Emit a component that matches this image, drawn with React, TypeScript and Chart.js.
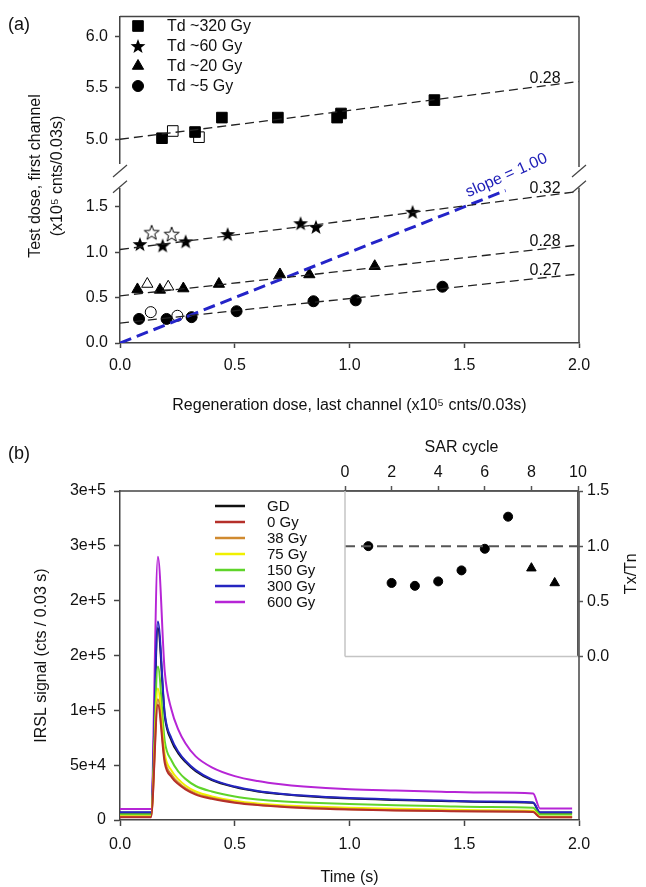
import React, { useEffect, useRef } from 'react';
import { Chart, registerables } from 'chart.js';
import { drawPoint } from 'chart.js/helpers';

Chart.register(...registerables);

const FONT = '"Liberation Sans", Arial, Helvetica, sans-serif';
const TXT = '#111';
const AXIS = '#444';
Chart.defaults.font.family = FONT;
Chart.defaults.color = TXT;

// ---------------- Panel (a) data ----------------
const legendA = ['Td ~320 Gy', 'Td ~60 Gy', 'Td ~20 Gy', 'Td ~5 Gy'];
const sq320X = [0.183, 0.327, 0.444, 0.688, 0.946, 0.963, 1.37];
const sq320Y = [5.01, 5.07, 5.21, 5.21, 5.21, 5.25, 5.38];
const sq320OpenX = [0.23, 0.344];
const sq320OpenY = [5.08, 5.02];
const star60X = [0.087, 0.186, 0.286, 0.469, 0.787, 0.854, 1.275];
const star60Y = [1.09, 1.075, 1.12, 1.2, 1.32, 1.28, 1.445];
const star60OpenX = [0.138, 0.225];
const star60OpenY = [1.22, 1.2];
const tri20X = [0.076, 0.174, 0.276, 0.431, 0.697, 0.825, 1.11];
const tri20Y = [0.59, 0.585, 0.6, 0.65, 0.755, 0.755, 0.846];
const tri20OpenX = [0.119, 0.21];
const tri20OpenY = [0.65, 0.62];
const circ5X = [0.083, 0.203, 0.312, 0.508, 0.843, 1.027, 1.405];
const circ5Y = [0.265, 0.265, 0.285, 0.35, 0.46, 0.47, 0.62];
const circ5OpenX = [0.134, 0.25];
const circ5OpenY = [0.34, 0.3];
const fitSlopes = [0.28, 0.32, 0.28, 0.27];
const fitIntercepts = [5.0, 1.03, 0.52, 0.22];
const fitLabels = ['0.28', '0.32', '0.28', '0.27'];
const unityEnd = 1.68;
const unityLabel = 'slope = 1.00';
const xTicksA = [0, 0.5, 1, 1.5, 2];
const yTicksTop = [5.0, 5.5, 6.0];
const yTicksBottom = [0, 0.5, 1.0, 1.5];

// ---------------- Panel (b) data ----------------
const timeS = [0, 0.135, 0.165, 0.195, 0.225, 0.255, 0.285, 0.33, 0.4, 0.5, 0.6, 0.7, 0.8, 1.0, 1.2, 1.4, 1.6, 1.8, 1.83, 1.97];
const sigGD = [6500, 6500, 175000, 95000, 72000, 60500, 53000, 44500, 36300, 30000, 26000, 23600, 21900, 19600, 18300, 17300, 16500, 15700, 6500, 6500];
const sig0 = [2500, 2500, 105000, 52000, 39000, 32500, 28000, 23200, 19300, 15800, 13600, 12100, 11000, 9600, 8700, 8100, 7700, 7300, 2500, 2500];
const sig38 = [3000, 3000, 110000, 55000, 41000, 34000, 29000, 24000, 20000, 16300, 14000, 12500, 11300, 9900, 9000, 8400, 8000, 7600, 2500, 2500];
const sig75 = [3500, 3500, 120000, 60000, 45000, 37000, 31500, 26000, 21500, 17500, 15000, 13500, 12500, 11200, 10300, 9600, 9000, 8500, 3000, 3000];
const sig150 = [5000, 5000, 140000, 72000, 54000, 44000, 37500, 31000, 26000, 21500, 18800, 17000, 16000, 14500, 13400, 12600, 11900, 11200, 5000, 5000];
const sig300 = [7000, 7000, 181000, 97000, 74000, 62000, 54000, 45500, 37000, 30500, 26500, 24000, 22300, 20000, 18700, 17700, 16800, 16000, 7000, 7000];
const sig600 = [10000, 10000, 240000, 135000, 100000, 82000, 70000, 58000, 48000, 40000, 35500, 32500, 30500, 28000, 26800, 25800, 25000, 24200, 10500, 10500];
const seriesB = [sigGD, sig0, sig38, sig75, sig150, sig300, sig600];
const labelsB = ['GD', '0 Gy', '38 Gy', '75 Gy', '150 Gy', '300 Gy', '600 Gy'];
const colorsB = ['#111111', '#b5302a', '#d08a30', '#f0f000', '#5fd42a', '#2525c0', '#b625d6'];
const xTicksB = [0, 0.5, 1, 1.5, 2];
const yTicksB = [0, 50000, 100000, 150000, 200000, 250000, 300000];
const yTickLabelsB = ['0', '5e+4', '1e+5', '2e+5', '2e+5', '3e+5', '3e+5'];

// ---------------- Inset data ----------------
const sarCycleCirc = [1, 2, 3, 4, 5, 6, 7];
const txTnCirc = [1.0, 0.666, 0.64, 0.68, 0.78, 0.976, 1.267];
const sarCycleTri = [8, 9];
const txTnTri = [0.8, 0.666];
const xTicksC = [0, 2, 4, 6, 8, 10];
const yTicksC = [0, 0.5, 1.0, 1.5];

// ---------------- helpers ----------------
function makeStar(filled: boolean) {
  const c = document.createElement('canvas');
  c.width = 18;
  c.height = 18;
  const g = c.getContext('2d')!;
  g.beginPath();
  for (let i = 0; i < 10; i++) {
    const r = i % 2 === 0 ? 7.8 : 3.2;
    const a = -Math.PI / 2 + (i * Math.PI) / 5;
    const px = 9 + r * Math.cos(a);
    const py = 9.7 + r * Math.sin(a);
    if (i === 0) g.moveTo(px, py);
    else g.lineTo(px, py);
  }
  g.closePath();
  if (filled) {
    g.fillStyle = '#000';
    g.fill();
  } else {
    g.fillStyle = '#fff';
    g.fill();
    g.strokeStyle = '#000';
    g.lineWidth = 1;
    g.stroke();
  }
  return c;
}

const setTicks = (values: number[]) => (scale: any) => {
  scale.ticks = values.map((v) => ({ value: v }));
};
const fixW = (w: number) => (s: any) => {
  s.width = w;
};
const fixH = (h: number) => (s: any) => {
  s.height = h;
};
const pts = (xs: number[], ys: number[]) => xs.map((x, i) => ({ x, y: ys[i] }));

function line(ctx: CanvasRenderingContext2D, x1: number, y1: number, x2: number, y2: number) {
  ctx.beginPath();
  ctx.moveTo(x1, y1);
  ctx.lineTo(x2, y2);
  ctx.stroke();
}

// ---------------- Chart (a) ----------------
function buildA(canvas: HTMLCanvasElement) {
  const STAR = makeStar(true);
  const STAR_O = makeStar(false);
  const marker = (label: string, xs: number[], ys: number[], style: any, radius: number, open: boolean, axis: string) => ({
    type: 'scatter',
    label,
    data: pts(xs, ys),
    yAxisID: axis,
    pointStyle: style,
    pointRadius: radius,
    pointHoverRadius: radius,
    pointBackgroundColor: open ? '#fff' : '#000',
    pointBorderColor: '#000',
    pointBorderWidth: 1,
    showLine: false,
  });
  const fits = fitSlopes.map((m, i) => ({
    type: 'line',
    label: 'fit ' + i,
    data: [
      { x: 0, y: fitIntercepts[i] },
      { x: 2, y: fitIntercepts[i] + 2 * m },
    ],
    yAxisID: i === 0 ? 'yTop' : 'y',
    borderColor: '#222',
    borderWidth: 1.3,
    borderDash: [9, 5],
    pointRadius: 0,
    fill: false,
  }));
  const unity = {
    type: 'line',
    label: 'unity',
    data: [
      { x: 0, y: 0 },
      { x: unityEnd, y: unityEnd },
    ],
    yAxisID: 'y',
    borderColor: '#2424c8',
    borderWidth: 3,
    borderDash: [12, 6],
    pointRadius: 0,
    fill: false,
  };
  const legendStyles: any[] = ['rect', STAR, 'triangle', 'circle'];
  const legendRadii = [7.5, 7, 6.5, 5.5];

  const plugin = {
    id: 'panelA',
    afterDraw(chart: any) {
      const { ctx, chartArea: ca, scales } = chart;
      const yT = scales.yTop;
      const yB = scales.y;
      const xs = scales.x;
      ctx.save();
      ctx.strokeStyle = AXIS;
      ctx.lineWidth = 1.5;
      line(ctx, ca.left, ca.top, ca.right, ca.top);
      line(ctx, ca.right, ca.top, ca.right, yT.bottom + 3);
      line(ctx, ca.right, yB.top - 1, ca.right, ca.bottom);
      ctx.lineWidth = 1.2;
      for (const ex of [ca.left, ca.right]) {
        for (const yc of [yT.bottom + 7, yB.top - 2]) {
          line(ctx, ex - 7, yc + 6, ex + 7, yc - 6);
        }
      }
      // legend
      ctx.fillStyle = '#000';
      ctx.strokeStyle = '#000';
      ctx.lineWidth = 1;
      ctx.font = `16px ${FONT}`;
      ctx.textBaseline = 'middle';
      ctx.textAlign = 'left';
      legendA.forEach((t, i) => {
        const yy = 26 + 20 * i;
        ctx.fillStyle = '#000';
        drawPoint(ctx, { pointStyle: legendStyles[i], radius: legendRadii[i], rotation: 0, borderWidth: 1 } as any, 138, yy);
        ctx.fillStyle = TXT;
        ctx.fillText(t, 167, yy + 1);
      });
      // fit labels
      ctx.textAlign = 'right';
      ctx.textBaseline = 'alphabetic';
      fitSlopes.forEach((m, i) => {
        const ax = i === 0 ? yT : yB;
        const xv = 1.92;
        const px = xs.getPixelForValue(xv);
        const py = ax.getPixelForValue(fitIntercepts[i] + m * xv);
        ctx.fillText(fitLabels[i], px, py - 1);
      });
      // slope label
      const ux = xs.getPixelForValue(unityEnd);
      const uy = yB.getPixelForValue(unityEnd);
      ctx.save();
      ctx.translate(ux + 1, uy - 15);
      ctx.rotate((-24 * Math.PI) / 180);
      ctx.fillStyle = '#2020b8';
      ctx.textAlign = 'center';
      ctx.textBaseline = 'middle';
      ctx.fillText(unityLabel, 0, 0);
      ctx.restore();
      // y title
      ctx.fillStyle = TXT;
      ctx.textAlign = 'center';
      ctx.textBaseline = 'middle';
      const titleLines = ['Test dose, first channel', '(x10\u2075 cnts/0.03s)'];
      const titleX = [36, 58];
      titleLines.forEach((t, i) => {
        ctx.save();
        ctx.translate(titleX[i], 176);
        ctx.rotate(-Math.PI / 2);
        ctx.fillText(t, 0, 0);
        ctx.restore();
      });
      // panel letter
      ctx.font = `18px ${FONT}`;
      ctx.textAlign = 'left';
      ctx.fillText('(a)', 8, 25);
      ctx.restore();
    },
  };

  const tickFont = { family: FONT, size: 16 };
  return new Chart(canvas, {
    type: 'scatter',
    data: {
      datasets: [
        ...fits,
        unity,
        marker('Td ~320 Gy', sq320X, sq320Y, 'rect', 7.5, false, 'yTop'),
        marker('Td ~320 Gy open', sq320OpenX, sq320OpenY, 'rect', 7.5, true, 'yTop'),
        marker('Td ~60 Gy', star60X, star60Y, STAR, 7, false, 'y'),
        marker('Td ~60 Gy open', star60OpenX, star60OpenY, STAR_O, 7, true, 'y'),
        marker('Td ~20 Gy', tri20X, tri20Y, 'triangle', 6.5, false, 'y'),
        marker('Td ~20 Gy open', tri20OpenX, tri20OpenY, 'triangle', 6.5, true, 'y'),
        marker('Td ~5 Gy', circ5X, circ5Y, 'circle', 5.5, false, 'y'),
        marker('Td ~5 Gy open', circ5OpenX, circ5OpenY, 'circle', 5.5, true, 'y'),
      ] as any,
    },
    options: {
      responsive: false,
      animation: false,
      layout: { padding: { left: 0, right: 67, top: 13, bottom: 0 } },
      plugins: { legend: { display: false }, tooltip: { enabled: false } },
      scales: {
        x: {
          type: 'linear',
          position: 'bottom',
          min: 0,
          max: 2,
          afterBuildTicks: setTicks(xTicksA),
          afterFit: fixH(87),
          ticks: { callback: (v: any) => Number(v).toFixed(1), font: tickFont, color: TXT, padding: 8, maxRotation: 0 },
          grid: { drawOnChartArea: false, drawTicks: true, tickLength: 5, tickColor: AXIS, tickWidth: 1.5 },
          border: { color: AXIS, width: 1.5 },
          title: {
            display: true,
            text: 'Regeneration dose, last channel (x10\u2075 cnts/0.03s)',
            font: { family: FONT, size: 16 },
            color: TXT,
            padding: { top: 0, bottom: 15 },
          },
        },
        y: {
          type: 'linear',
          position: 'left',
          stack: 'a',
          stackWeight: 156,
          weight: 1,
          min: 0,
          max: 1.7,
          afterBuildTicks: setTicks(yTicksBottom),
          afterFit: fixW(120),
          ticks: { callback: (v: any) => Number(v).toFixed(1), font: tickFont, color: TXT, padding: 7 },
          grid: { drawOnChartArea: false, drawTicks: true, tickLength: 5, tickColor: AXIS, tickWidth: 1.5 },
          border: { color: AXIS, width: 1.5 },
        },
        yGap: {
          type: 'linear',
          position: 'left',
          stack: 'a',
          stackWeight: 25,
          weight: 2,
          min: 0,
          max: 1,
          afterFit: fixW(120),
          ticks: { display: false },
          grid: { display: false },
          border: { display: false },
        },
        yTop: {
          type: 'linear',
          position: 'left',
          stack: 'a',
          stackWeight: 149,
          weight: 3,
          min: 4.76,
          max: 6.19,
          afterBuildTicks: setTicks(yTicksTop),
          afterFit: fixW(120),
          ticks: { callback: (v: any) => Number(v).toFixed(1), font: tickFont, color: TXT, padding: 7 },
          grid: { drawOnChartArea: false, drawTicks: true, tickLength: 5, tickColor: AXIS, tickWidth: 1.5 },
          border: { color: AXIS, width: 1.5 },
        },
      },
    } as any,
    plugins: [plugin],
  });
}

// ---------------- Chart (b) ----------------
function buildB(canvas: HTMLCanvasElement) {
  const plugin = {
    id: 'panelB',
    afterDraw(chart: any) {
      const { ctx, chartArea: ca } = chart;
      ctx.save();
      ctx.strokeStyle = AXIS;
      ctx.lineWidth = 1.5;
      line(ctx, ca.left, ca.top, ca.right, ca.top);
      line(ctx, ca.right, ca.top, ca.right, ca.bottom);
      ctx.font = `15px ${FONT}`;
      ctx.textAlign = 'left';
      ctx.textBaseline = 'middle';
      labelsB.forEach((t, i) => {
        const yy = 76 + 16 * i;
        ctx.strokeStyle = colorsB[i];
        ctx.lineWidth = 2.5;
        line(ctx, 215, yy, 245, yy);
        ctx.fillStyle = TXT;
        ctx.fillText(t, 267, yy + 1);
      });
      ctx.font = `18px ${FONT}`;
      ctx.fillStyle = TXT;
      ctx.fillText('(b)', 8, 24);
      ctx.restore();
    },
  };
  const tickFont = { family: FONT, size: 16 };
  return new Chart(canvas, {
    type: 'line',
    data: {
      datasets: seriesB.map((s, i) => ({
        label: labelsB[i],
        data: pts(timeS, s),
        borderColor: colorsB[i],
        borderWidth: 2,
        pointRadius: 0,
        cubicInterpolationMode: 'monotone',
        fill: false,
        order: i === 0 ? 10 : 0,
      })),
    },
    options: {
      responsive: false,
      animation: false,
      layout: { padding: { left: 0, right: 67, top: 61, bottom: 0 } },
      plugins: { legend: { display: false }, tooltip: { enabled: false } },
      scales: {
        x: {
          type: 'linear',
          min: 0,
          max: 2,
          afterBuildTicks: setTicks(xTicksB),
          afterFit: fixH(67),
          ticks: { callback: (v: any) => Number(v).toFixed(1), font: tickFont, color: TXT, padding: 9, maxRotation: 0 },
          grid: { drawOnChartArea: false, drawTicks: true, tickLength: 6, tickColor: AXIS, tickWidth: 1.5 },
          border: { color: AXIS, width: 1.5 },
          title: { display: true, text: 'Time (s)', font: { family: FONT, size: 16 }, color: TXT, padding: { top: 0, bottom: 0 } },
        },
        y: {
          type: 'linear',
          min: 0,
          max: 300000,
          afterBuildTicks: setTicks(yTicksB),
          afterFit: fixW(120),
          ticks: { callback: (_v: any, i: number) => yTickLabelsB[i], font: tickFont, color: TXT, padding: 8 },
          grid: { drawOnChartArea: false, drawTicks: true, tickLength: 6, tickColor: AXIS, tickWidth: 1.5 },
          border: { color: AXIS, width: 1.5 },
          title: {
            display: true,
            text: 'IRSL signal (cts / 0.03 s)',
            font: { family: FONT, size: 16 },
            color: TXT,
            padding: { top: 32, bottom: 0 },
          },
        },
      },
    } as any,
    plugins: [plugin],
  });
}

// ---------------- Inset chart ----------------
function buildC(canvas: HTMLCanvasElement) {
  const plugin = {
    id: 'inset',
    afterDraw(chart: any) {
      const { ctx, chartArea: ca } = chart;
      ctx.save();
      ctx.strokeStyle = '#c4c4c4';
      ctx.lineWidth = 1.5;
      line(ctx, ca.left, ca.top, ca.left, ca.bottom);
      line(ctx, ca.left, ca.bottom, ca.right, ca.bottom);
      ctx.fillStyle = TXT;
      ctx.font = `16px ${FONT}`;
      ctx.textAlign = 'center';
      ctx.textBaseline = 'middle';
      ctx.translate(302, (ca.top + ca.bottom) / 2);
      ctx.rotate(-Math.PI / 2);
      ctx.fillText('Tx/Tn', 0, 0);
      ctx.restore();
    },
  };
  const tickFont = { family: FONT, size: 16 };
  const IAX = '#555';
  return new Chart(canvas, {
    type: 'scatter',
    data: {
      datasets: [
        {
          type: 'line',
          label: 'unity',
          data: [
            { x: 0, y: 1 },
            { x: 10, y: 1 },
          ],
          borderColor: '#555',
          borderWidth: 2,
          borderDash: [10, 6],
          pointRadius: 0,
          fill: false,
        },
        {
          label: 'circles',
          data: pts(sarCycleCirc, txTnCirc),
          pointStyle: 'circle',
          pointRadius: 4.5,
          pointBackgroundColor: '#000',
          pointBorderColor: '#000',
        },
        {
          label: 'triangles',
          data: pts(sarCycleTri, txTnTri),
          pointStyle: 'triangle',
          pointRadius: 5.5,
          pointBackgroundColor: '#000',
          pointBorderColor: '#000',
        },
      ] as any,
    },
    options: {
      responsive: false,
      animation: false,
      layout: { padding: { left: 15, right: 0, top: 0, bottom: 13 } },
      plugins: { legend: { display: false }, tooltip: { enabled: false } },
      scales: {
        x: {
          type: 'linear',
          position: 'top',
          min: 0,
          max: 10,
          afterBuildTicks: setTicks(xTicksC),
          afterFit: fixH(61),
          ticks: { callback: (v: any) => String(v), font: tickFont, color: TXT, padding: 4, maxRotation: 0 },
          grid: { drawOnChartArea: false, drawTicks: true, tickLength: 5, tickColor: IAX, tickWidth: 1.5 },
          border: { color: IAX, width: 1.5 },
          title: { display: true, text: 'SAR cycle', font: { family: FONT, size: 16 }, color: TXT, padding: { top: 8, bottom: 0 } },
        },
        y: {
          type: 'linear',
          position: 'right',
          min: 0,
          max: 1.5,
          afterBuildTicks: setTicks(yTicksC),
          afterFit: fixW(68),
          ticks: { callback: (v: any) => Number(v).toFixed(1), font: tickFont, color: TXT, padding: 4 },
          grid: { drawOnChartArea: false, drawTicks: true, tickLength: 5, tickColor: IAX, tickWidth: 1.5 },
          border: { color: IAX, width: 1.5 },
        },
      },
    } as any,
    plugins: [plugin],
  });
}

export default function App() {
  const aRef = useRef<HTMLCanvasElement>(null);
  const bRef = useRef<HTMLCanvasElement>(null);
  const cRef = useRef<HTMLCanvasElement>(null);
  useEffect(() => {
    const charts = [buildA(aRef.current!), buildB(bRef.current!), buildC(cRef.current!)];
    return () => charts.forEach((c) => c.destroy());
  }, []);
  return (
    <div style={{ position: 'fixed', left: 0, top: 0, width: 646, height: 887, background: '#fff', overflow: 'hidden' }}>
      <canvas ref={aRef} width={646} height={430} style={{ position: 'absolute', left: 0, top: 0, width: 646, height: 430 }} />
      <canvas ref={bRef} width={646} height={457} style={{ position: 'absolute', left: 0, top: 430, width: 646, height: 457 }} />
      <canvas ref={cRef} width={316} height={240} style={{ position: 'absolute', left: 330, top: 430, width: 316, height: 240 }} />
    </div>
  );
}
